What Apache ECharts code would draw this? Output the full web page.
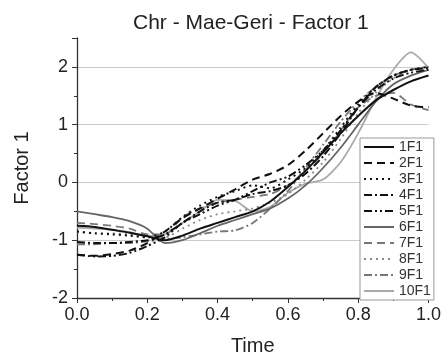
<!DOCTYPE html>
<html><head><meta charset="utf-8">
<script src="https://cdn.jsdelivr.net/npm/echarts@6/dist/echarts.min.js"></script>
<style>html,body{margin:0;padding:0;background:#fff;}#c{width:444px;height:361px;}</style>
</head><body><div id="c"></div>
<script>
const time = [0,0.05,0.1,0.15,0.2,0.25,0.3,0.35,0.4,0.45,0.5,0.55,0.6,0.65,0.7,0.75,0.8,0.85,0.9,0.95,1.0];
const s1F1 = [-0.75,-0.77,-0.82,-0.87,-0.93,-1.0,-0.92,-0.8,-0.7,-0.6,-0.5,-0.33,-0.08,0.2,0.52,0.85,1.15,1.42,1.6,1.75,1.85];
const s2F1 = [-1.25,-1.27,-1.24,-1.18,-1.05,-0.85,-0.62,-0.45,-0.28,-0.12,0.05,0.15,0.3,0.55,0.85,1.15,1.4,1.55,1.45,1.33,1.3];
const s3F1 = [-0.85,-0.88,-0.9,-0.92,-0.95,-0.85,-0.6,-0.4,-0.25,-0.15,-0.05,-0.1,0.05,0.25,0.55,0.95,1.35,1.65,1.85,1.95,2.0];
const s4F1 = [-1.03,-1.05,-1.05,-1.03,-1.0,-0.9,-0.7,-0.5,-0.35,-0.3,-0.2,-0.15,-0.05,0.15,0.45,0.85,1.3,1.65,1.85,1.95,1.98];
const s5F1 = [-1.25,-1.28,-1.27,-1.22,-1.1,-0.95,-0.7,-0.55,-0.4,-0.3,-0.15,0.0,0.1,0.3,0.55,0.9,1.3,1.6,1.8,1.9,1.95];
const s6F1 = [-0.5,-0.55,-0.6,-0.67,-0.8,-1.05,-1.0,-0.88,-0.75,-0.65,-0.55,-0.45,-0.28,-0.05,0.25,0.6,1.0,1.4,1.7,1.85,1.95];
const s7F1 = [-0.7,-0.72,-0.75,-0.8,-0.9,-0.9,-0.6,-0.45,-0.35,-0.3,-0.25,-0.2,-0.05,0.2,0.5,0.9,1.3,1.5,1.55,1.35,1.25];
const s8F1 = [-0.85,-0.88,-0.88,-0.9,-0.95,-0.95,-0.8,-0.65,-0.55,-0.5,-0.45,-0.35,-0.2,0.05,0.35,0.75,1.2,1.55,1.8,1.95,2.0];
const s9F1 = [-1.07,-1.07,-1.05,-1.05,-1.02,-0.98,-0.95,-0.9,-0.85,-0.83,-0.7,-0.45,-0.15,0.25,0.65,1.05,1.4,1.65,1.85,1.95,2.0];
const s10F1 = [-0.78,-0.8,-0.82,-0.86,-0.93,-0.9,-0.7,-0.5,-0.3,-0.32,-0.5,-0.42,-0.18,-0.02,0.05,0.35,0.85,1.45,1.95,2.25,1.98];
const seriesNames = ['1F1','2F1','3F1','4F1','5F1','6F1','7F1','8F1','9F1','10F1'];
const seriesData = [s1F1,s2F1,s3F1,s4F1,s5F1,s6F1,s7F1,s8F1,s9F1,s10F1];
const xTicks = [0,0.2,0.4,0.6,0.8,1.0];
const yTicks = [-2,-1,0,1,2];

const styles = [
  {color:'#111', type:'solid', width:2},
  {color:'#111', type:[8,5], width:2},
  {color:'#111', type:[2,4], width:2},
  {color:'#111', type:[8,3,2,3], width:2},
  {color:'#111', type:[8,3,2,3,2,3], width:2},
  {color:'#666', type:'solid', width:1.8},
  {color:'#777', type:[8,5], width:1.8},
  {color:'#888', type:[2,4], width:1.8},
  {color:'#777', type:[8,3,2,3], width:1.8},
  {color:'#aaa', type:'solid', width:1.8}
];
const FONT = 'Liberation Sans, Arial, sans-serif';
const chart = echarts.init(document.getElementById('c'), null, {renderer:'canvas'});
chart.setOption({
  animation:false,
  backgroundColor:'#fff',
  title:{text:'Chr - Mae-Geri - Factor 1', left:133, top:13, padding:0,
    textStyle:{fontFamily:FONT, fontSize:21, fontWeight:'normal', color:'#222'}},
  grid:{left:77, right:12, top:38, bottom:61},
  legend:{orient:'vertical', left:360, top:138, padding:[2,3,2,3], itemWidth:30, itemHeight:12, itemGap:2,
    backgroundColor:'#fff', borderColor:'#999', borderWidth:1, borderRadius:0,
    itemStyle:{opacity:0},
    textStyle:{fontFamily:FONT, fontSize:14, lineHeight:14, color:'#333'},
    data:seriesNames},
  xAxis:{type:'value', min:0, max:1, interval:0.2,
    name:'Time', nameLocation:'middle', nameGap:38,
    nameTextStyle:{fontFamily:FONT, fontSize:20, color:'#222'},
    axisLine:{show:true, onZero:false, lineStyle:{color:'#333', width:1.3}},
    axisTick:{show:true, inside:false, length:5, lineStyle:{color:'#333'}},
    minorTick:{show:true, splitNumber:2, length:3, lineStyle:{color:'#333'}},
    splitLine:{show:false},
    axisLabel:{fontFamily:FONT, fontSize:18, color:'#222', margin:8, formatter:v=>xTicks.includes(+v.toFixed(1))?v.toFixed(1):''}},
  yAxis:{type:'value', min:-2, max:2.5, interval:1,
    name:'Factor 1', nameLocation:'middle', nameGap:45, nameRotate:90,
    nameTextStyle:{fontFamily:FONT, fontSize:20, color:'#222'},
    axisLine:{show:true, onZero:false, lineStyle:{color:'#333', width:1.3}},
    axisTick:{show:true, inside:false, length:5, lineStyle:{color:'#333'}},
    minorTick:{show:true, splitNumber:2, length:3, lineStyle:{color:'#333'}},
    splitLine:{show:true, showMinLine:false, showMaxLine:false, lineStyle:{color:'#ccc', width:1}},
    axisLabel:{fontFamily:FONT, fontSize:18, color:'#222', margin:9, showMaxLabel:false,
      formatter:v=>yTicks.includes(v)?String(v):''}},
  series:seriesNames.map((n,i)=>({
    name:n, type:'line', showSymbol:false, symbol:'none', smooth:0.25,
    data:time.map((t,j)=>[t, seriesData[i][j]]),
    lineStyle:{color:styles[i].color, type:styles[i].type, width:styles[i].width},
    itemStyle:{color:styles[i].color}, z: 10 - i
  }))
});
</script></body></html>
